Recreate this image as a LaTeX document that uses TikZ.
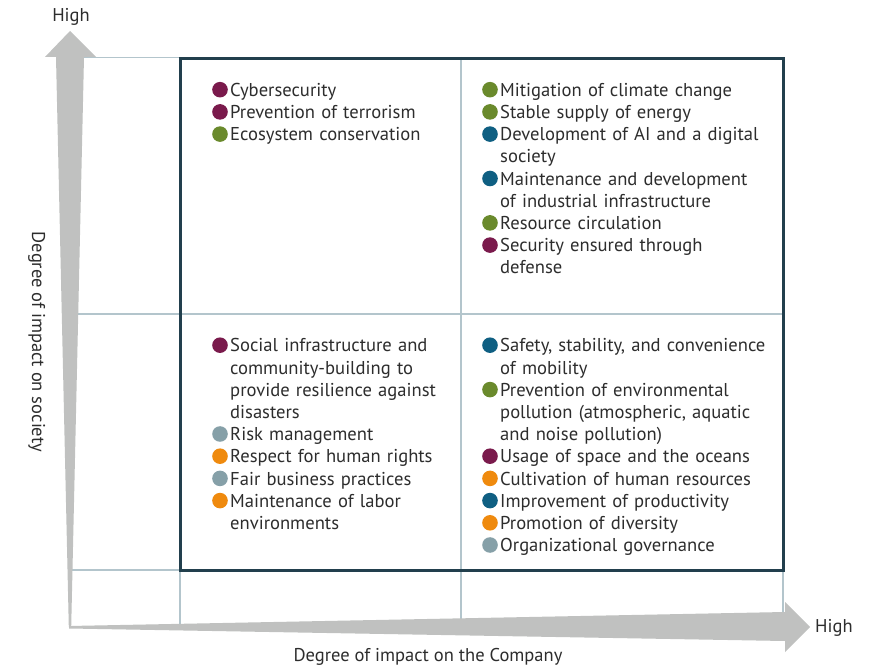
\documentclass[tikz,border=0pt]{standalone}
\usepackage{fontspec}
\setmainfont{PT Sans}
\definecolor{cMaroon}{HTML}{7A1A4C}
\definecolor{cGreen}{HTML}{6A8A2C}
\definecolor{cBlue}{HTML}{0F5F82}
\definecolor{cGrey}{HTML}{86A0A8}
\definecolor{cOrange}{HTML}{EF8A0E}
\definecolor{cText}{HTML}{2D2D2D}
\definecolor{cGrid}{HTML}{B3C5CC}
\definecolor{cArrow}{HTML}{C0C1C0}
\definecolor{cBox}{HTML}{223F4D}
\newcommand\qitem[2]{\par\noindent\hangindent=18pt\hangafter=1\strut\makebox[18pt][l]{\tikz[baseline=0pt]\fill[#1] (7.6pt,6.7pt) circle[radius=7.8pt];}#2\par}
\tikzset{
  gridline/.style={draw=cGrid, line width=1.2pt},
  quad/.style={anchor=north west, inner sep=0pt, text width=300pt, align=left, text=cText,
    font=\fontsize{18.6}{22.2}\selectfont},
  axislabel/.style={inner sep=0pt, text=cText, font=\fontsize{18.5}{22}\selectfont},
  bigarrow/.style={fill=cArrow, draw=none}
}
\begin{document}
\begin{tikzpicture}[x=1pt,y=-1pt]
\useasboundingbox (0,0) rectangle (879,666);
\fill[white] (0,0) rectangle (879,666);
% grid
\draw[gridline] (70,57.5) -- (783,57.5);
\draw[gridline] (70,314) -- (783,314);
\draw[gridline] (70,570) -- (783,570);
\draw[gridline] (180,57) -- (180,626);
\draw[gridline] (461,57) -- (461,626);
\draw[gridline] (783,57) -- (783,626);
% arrows
\fill[bigarrow] (70,31) -- (96,57) -- (84,57) -- (71.2,627) -- (68.8,627) -- (56,57) -- (45,57) -- cycle;
\fill[bigarrow] (69,626) -- (785,612) -- (785,602) -- (810,627) -- (785,652) -- (785,641) -- (69,628.5) -- cycle;
% box
\draw[draw=cBox, line width=3pt] (180,58.5) rectangle (783,570);
% texts
\node[quad] (tl) at (212,74) {%
\qitem{cMaroon}{Cybersecurity}
\qitem{cMaroon}{Prevention of terrorism}
\qitem{cGreen}{Ecosystem conservation}};
\node[quad] (tr) at (482,74) {%
\qitem{cGreen}{Mitigation of climate change}
\qitem{cGreen}{Stable supply of energy}
\qitem{cBlue}{Development of AI and a digital\newline society}
\qitem{cBlue}{Maintenance and development\newline of industrial infrastructure}
\qitem{cGreen}{Resource circulation}
\qitem{cMaroon}{Security ensured through\newline defense}};
\node[quad] (bl) at (212,329.5) {%
\qitem{cMaroon}{Social infrastructure and\newline community-building to\newline provide resilience against\newline disasters}
\qitem{cGrey}{Risk management}
\qitem{cOrange}{Respect for human rights}
\qitem{cGrey}{Fair business practices}
\qitem{cOrange}{Maintenance of labor\newline environments}};
\node[quad] (br) at (482,329.5) {%
\qitem{cBlue}{Safety, stability, and convenience\newline of mobility}
\qitem{cGreen}{Prevention of environmental\newline pollution (atmospheric, aquatic\newline and noise pollution)}
\qitem{cMaroon}{Usage of space and the oceans}
\qitem{cOrange}{Cultivation of human resources}
\qitem{cBlue}{Improvement of productivity}
\qitem{cOrange}{Promotion of diversity}
\qitem{cGrey}{Organizational governance}};
% axis labels
\node[axislabel, anchor=base] (hightop) at (71,21.7) {High};
\node[axislabel, anchor=base west] (highright) at (815,632.7) {High};
\node[axislabel, anchor=base] (xlabel) at (428,661) {Degree of impact on the Company};
\node[axislabel, anchor=base, rotate=-90] (ylabel) at (32,342) {Degree of impact on society};
\end{tikzpicture}
\end{document}
